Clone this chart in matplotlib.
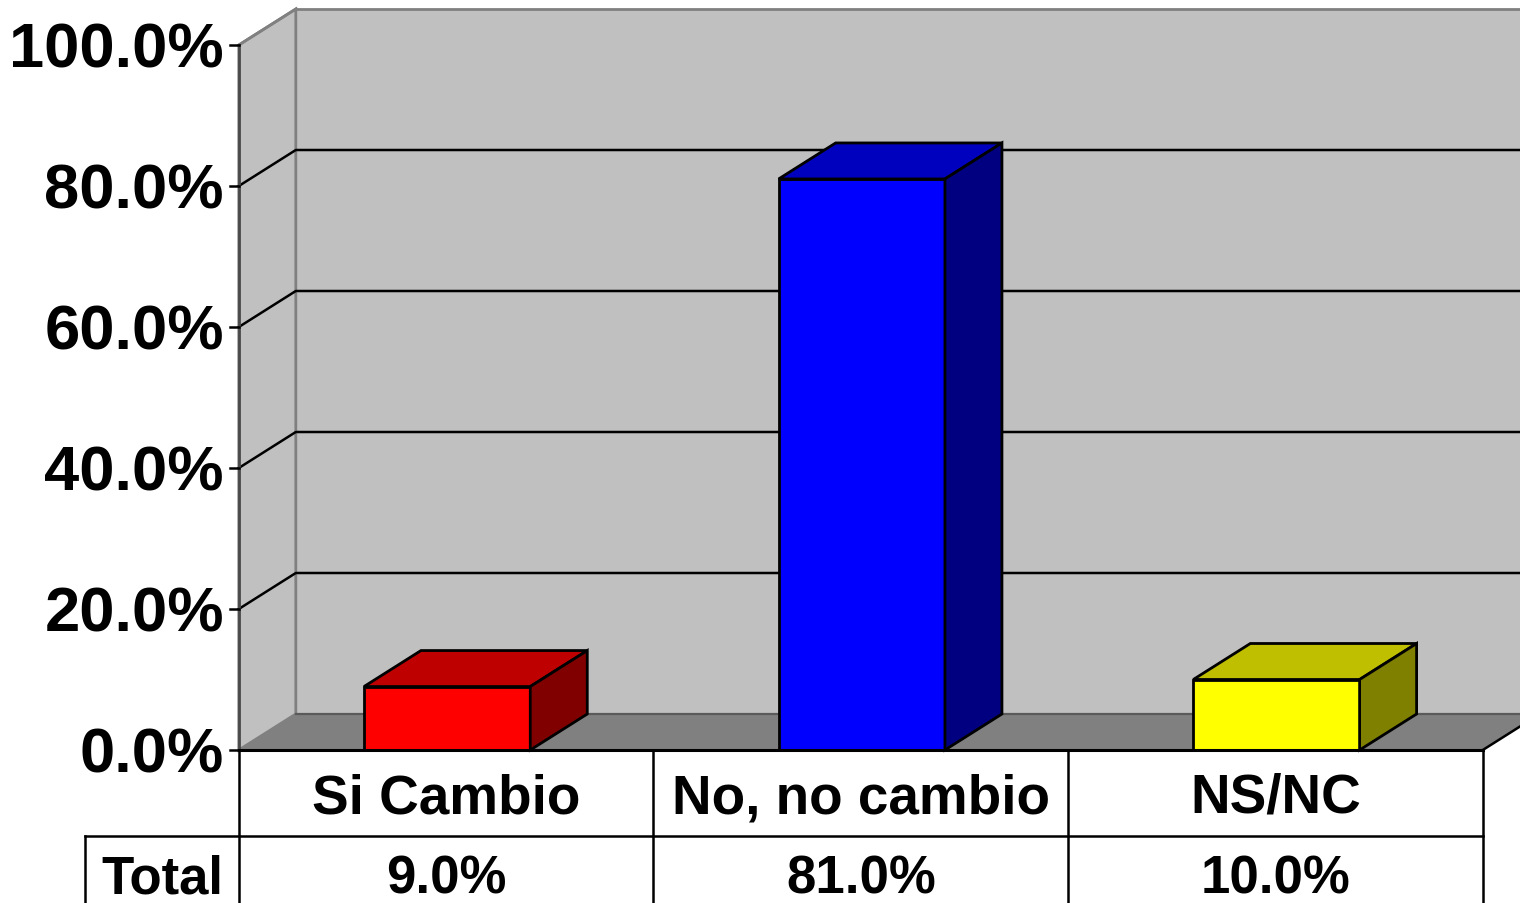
#!/usr/bin/env python

import matplotlib
matplotlib.use('Agg')
import matplotlib.pyplot as plt
from matplotlib.patches import Polygon

categories = ['Si Cambio', 'No, no cambio', 'NS/NC']
values = [9.0, 81.0, 10.0]
value_labels = ['9.0%', '81.0%', '10.0%']
row_label = 'Total'
yticks = [0, 20, 40, 60, 80, 100]
front_colors = ['#ff0000', '#0000ff', '#ffff00']
top_colors = ['#bf0000', '#0000bf', '#bfbf00']
side_colors = ['#800000', '#000080', '#808000']

W, H = 1520, 904
plt.rcParams['font.family'] = ['Liberation Sans', 'DejaVu Sans']

fig = plt.figure(figsize=(W / 100, H / 100), dpi=100)
# axes = front plane of the 3d box
ax = fig.add_axes([238.8 / W, 1 - 751 / H, 1244 / W, 705 / H])
ax.set_xlim(0, 3)
ax.set_ylim(0, 100)
ax.axis('off')

# depth of the box, in data units
px_x = 3 / 1244
px_y = 100 / 705
dx = 57 * px_x
dy = 36 * px_y
right = (W - 239) * px_x


def poly(pts, fc, ec='black', lw=2.0, z=2):
    ax.add_patch(Polygon(pts, closed=True, fc=fc, ec=ec, lw=lw, zorder=z, clip_on=False))


# walls and floor
poly([(dx, dy), (right, dy), (right, 100 + dy), (dx, 100 + dy)], '#c0c0c0', ec='none', z=1)
poly([(0, 0), (dx, dy), (dx, 100 + dy), (0, 100)], '#c0c0c0', ec='#808080', lw=2, z=1)
ax.plot([dx, right], [100 + dy, 100 + dy], color='#808080', lw=2, zorder=1, clip_on=False)
poly([(0, 0), (3, 0), (3 + dx, dy), (right, dy), (dx, dy)], '#808080', ec='none', z=1)
ax.plot([dx, right], [dy, dy], color='#5a5a5a', lw=1.6, zorder=1, clip_on=False)

# gridlines on both walls
for t in yticks[1:-1]:
    ax.plot([0, dx, right], [t, t + dy, t + dy], color='black', lw=1.8, zorder=1.5, clip_on=False)
ax.plot([0, dx], [100, 100 + dy], color='#808080', lw=2, zorder=1.5, clip_on=False)

# bars
bar_w = 0.401
for i, v in enumerate(values):
    x0 = i + 0.5 - bar_w / 2 + 1 * px_x
    x1 = i + 0.5 + bar_w / 2 + 1 * px_x
    poly([(x0, 0), (x1, 0), (x1, v), (x0, v)], front_colors[i], z=3)
    poly([(x0, v), (x1, v), (x1 + dx, v + dy), (x0 + dx, v + dy)], top_colors[i], z=3)
    poly([(x1, 0), (x1 + dx, dy), (x1 + dx, v + dy), (x1, v)], side_colors[i], z=3)

# y axis and ticks
ax.plot([0, 0], [0, 100], color='#4a4a4a', lw=2, zorder=4, clip_on=False)
for t in yticks:
    ax.plot([-9 * px_x, 0], [t, t], color='black', lw=1.8, zorder=4, clip_on=False)
    ax.text(-15 * px_x, t - 5 * px_y, '%.1f%%' % t, ha='right', va='center', fontsize=45.5,
            fontweight='bold', clip_on=False)

# data table under the chart
row1 = -86 * px_y
row2 = -(904 - 750 + 10) * px_y
ax.plot([0, 3], [0, 0], color='black', lw=2.2, zorder=4, clip_on=False)
ax.plot([-154 * px_x, 3], [row1, row1], color='black', lw=1.8, clip_on=False)
for i in range(4):
    ax.plot([i, i], [0, row2], color='black', lw=1.8, clip_on=False)
ax.plot([-154 * px_x, -154 * px_x], [row1, row2], color='black', lw=1.8, clip_on=False)
ax.plot([3, 3 + dx], [0, dy], color='black', lw=1.8, zorder=4, clip_on=False)

for i, c in enumerate(categories):
    ax.text(i + 0.5, -48 * px_y, c, ha='center', va='center', fontsize=39.5,
            fontweight='bold', clip_on=False)
    ax.text(i + 0.5, -143 * px_y, value_labels[i], ha='center', va='baseline', fontsize=38,
            fontweight='bold', clip_on=False)
ax.text(-76 * px_x, -143 * px_y, row_label, ha='center', va='baseline', fontsize=38,
        fontweight='bold', clip_on=False)

fig.savefig('out.png', dpi=100, facecolor='white')
